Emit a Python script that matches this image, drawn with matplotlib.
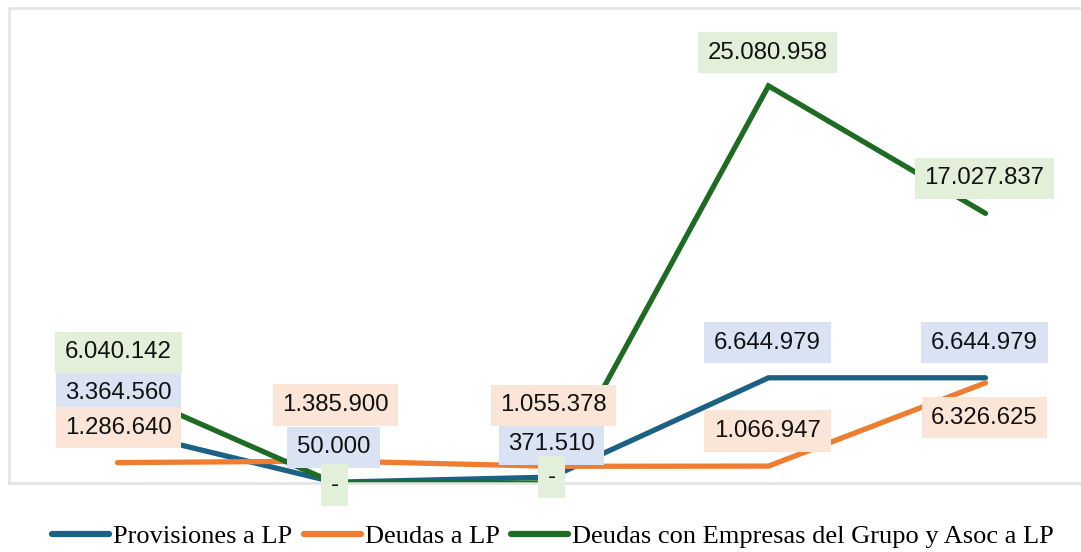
import matplotlib.pyplot as plt

# datos
periodos = [0, 1, 2, 3, 4]
provisiones = [3364560, 50000, 371510, 6644979, 6644979]
deudas = [1286640, 1385900, 1055378, 1066947, 6326625]
deudas_grupo = [6040142, 0, 0, 25080958, 17027837]

series = ["Provisiones a LP", "Deudas a LP",
          "Deudas con Empresas del Grupo y Asoc a LP"]
colores = ["#1B6184", "#ED7D31", "#1E6B24"]
fondos = ["#DAE3F3", "#FBE5D6", "#E2F0D9"]

# desplazamiento de cada etiqueta respecto a su punto (pixeles)
desp = [
    [(1, 37), (-1, 35), (0, 33), (-1, 35), (-1, 35)],
    [(1, 35), (1, 56), (2, 61), (-1, 35), (-1, -35)],
    [(1, 35), (0, -2), (0, 6), (-1, 33), (-1, 35)],
]


def fmt(v):
    if v == 0:
        return "-"
    return f"{v:,}".replace(",", ".")


W, H = 1081, 552
fig = plt.figure(figsize=(W / 100, H / 100), dpi=100)
ax = fig.add_axes([9 / W, (H - 483) / H, 1085 / W, 475 / H])

valores = [provisiones, deudas, deudas_grupo]
for i, (vals, nombre, col) in enumerate(zip(valores, series, colores)):
    ax.plot(periodos, vals, color=col, lw=3.8, solid_capstyle="round",
            solid_joinstyle="miter", label=nombre, zorder=2)

for i, (vals, fondo) in enumerate(zip(valores, fondos)):
    for j, (x, v) in enumerate(zip(periodos, vals)):
        ax.annotate(fmt(v), (x, v), xytext=desp[i][j], textcoords="offset pixels",
                    ha="center", va="center", fontsize=17.3, family="Liberation Sans",
                    color="#111111", zorder=5,
                    bbox=dict(boxstyle="square,pad=0.4", fc=fondo, ec="none"))

ax.set_xlim(-0.5, 4.5)
ax.set_ylim(0, 30000000)
ax.set_xticks([])
ax.set_yticks([])
for lado in ["left", "top", "bottom"]:
    ax.spines[lado].set_color("#E3E3E3")
    ax.spines[lado].set_linewidth(1.8)
ax.spines["right"].set_visible(False)

leg = fig.legend(loc="center", bbox_to_anchor=(553 / W, (H - 536) / H), ncol=3,
                 frameon=False, prop={"family": "Liberation Serif", "size": 19},
                 handlelength=2.15, handletextpad=0.15, columnspacing=0.45,
                 borderpad=0, borderaxespad=0)
for ln in leg.get_lines():
    ln.set_linewidth(4.5)
    ln.set_solid_capstyle("round")

fig.savefig("out.png", dpi=100)
